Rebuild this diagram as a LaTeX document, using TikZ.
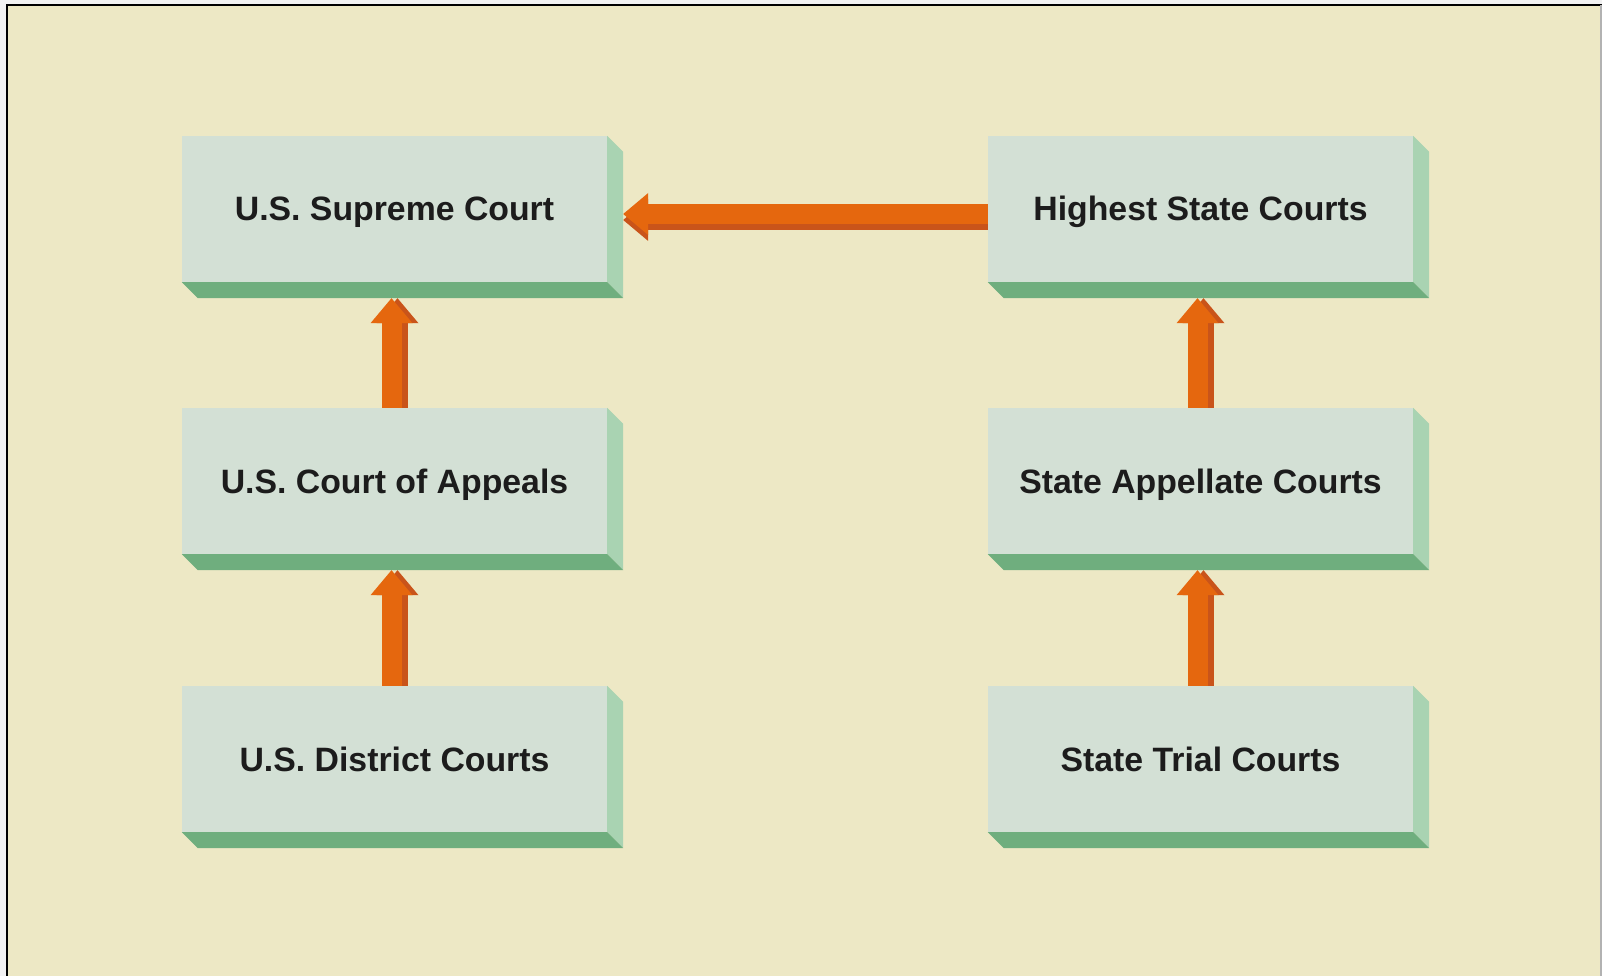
\documentclass[tikz,border=0pt]{standalone}
\usepackage{fontspec}
\usepackage{tikz}
\usetikzlibrary{calc,arrows.meta,backgrounds}
\usepackage{xcolor}
\newfontfamily\courtfont{Liberation Sans}

\definecolor{paper}{HTML}{EDE8C5}
\definecolor{outside}{HTML}{F2F2F2}
\definecolor{boxfront}{HTML}{D3E0D5}
\definecolor{boxside}{HTML}{A9D3B2}
\definecolor{boxbottom}{HTML}{6FAE7E}
\definecolor{arrowfront}{HTML}{E5670E}
\definecolor{arrowdark}{HTML}{C9541A}
\definecolor{inktext}{HTML}{1C1C1C}

\pgfdeclarelayer{arrowlayer}
\pgfsetlayers{background,arrowlayer,main}

\begin{document}
\begin{tikzpicture}[x=1pt,y=-1pt,
    court/.style={fill=boxfront,minimum width=425pt,minimum height=146pt,inner sep=0pt,
      text height=24pt,text depth=0pt,text=inktext,font=\courtfont\bfseries\fontsize{33.8}{40}\selectfont},
    pipe/.style={line width=20pt,-{Triangle[width=42pt,length=25pt,line width=0pt]}},
    pipeshade/.style={pipe,arrowdark,transform canvas={#1}}]
\newcommand*{\depth}{16}
\useasboundingbox (0,0) rectangle (1602,976);
\begin{scope}[on background layer]
  \fill[outside] (0,0) rectangle (1602,976);
  \fill[paper] (7,5) rectangle (1602,976);
  \draw[line width=2.5pt] (7,976) -- (7,5) -- (1602,5);
  \draw[line width=1.5pt,black!30] (1601,5) -- (1601,976);
\end{scope}

% the six courts, front face plus side and bottom bevel
\foreach \name/\x/\y/\txt in {supreme/394.5/209/U.S. Supreme Court,
                              appeals/394.5/481/U.S. Court of Appeals,
                              district/394.5/759/U.S. District Courts,
                              higheststate/1200.5/209/Highest State Courts,
                              stateapp/1200.5/481/State Appellate Courts,
                              trial/1200.5/759/State Trial Courts}
{
  \node[court] (\name) at (\x,\y) {\txt};
  \fill[boxside] (\name.north east) -- ++(\depth,\depth) -- ($(\name.south east)+(\depth,\depth)$) -- (\name.south east) -- cycle;
  \fill[boxbottom] (\name.south west) -- (\name.south east) -- ++(\depth,\depth) -- ($(\name.south west)+(\depth,\depth)$) -- cycle;
}

% appeals go upward
\begin{pgfonlayer}{arrowlayer}
\foreach \from/\to in {district/appeals,appeals/supreme,trial/stateapp,stateapp/higheststate}
{
  \draw[pipeshade={xshift=6pt}] ($(\from.north)+(-3,0)$) -- ($(\to.south)+(-3,\depth)$);
  \draw[pipe,arrowfront] ($(\from.north)+(-3,0)$) -- ($(\to.south)+(-3,\depth)$);
}
\draw[pipeshade={yshift=-6pt}] ($(higheststate.west)+(0,5)$) -- ($(supreme.east)+(\depth,5)$);
\draw[pipe,arrowfront] ($(higheststate.west)+(0,5)$) -- ($(supreme.east)+(\depth,5)$);
\end{pgfonlayer}
\end{tikzpicture}
\end{document}
